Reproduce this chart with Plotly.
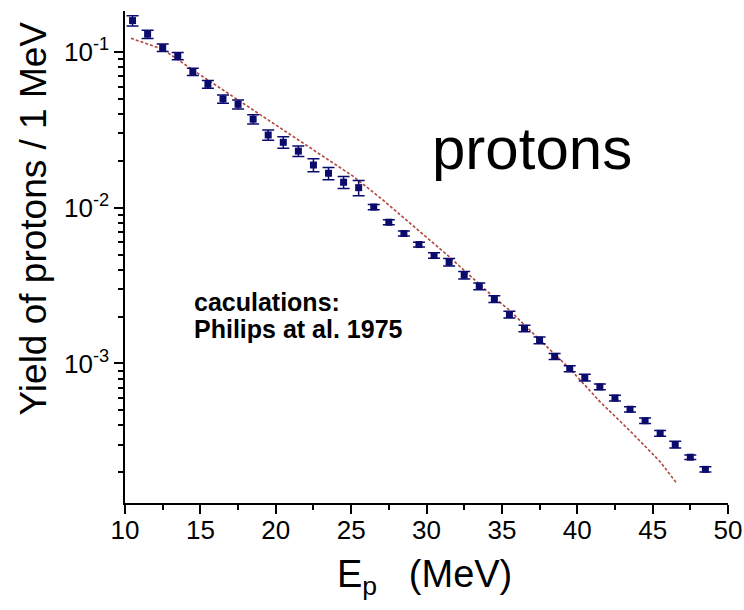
import plotly.graph_objects as go

# measured proton yield (points with error bars)
energy = [10.5, 11.5, 12.5, 13.5, 14.5, 15.5, 16.5, 17.5, 18.5, 19.5,
          20.5, 21.5, 22.5, 23.5, 24.5, 25.5, 26.5, 27.5, 28.5, 29.5,
          30.5, 31.5, 32.5, 33.5, 34.5, 35.5, 36.5, 37.5, 38.5, 39.5,
          40.5, 41.5, 42.5, 43.5, 44.5, 45.5, 46.5, 47.5, 48.5]
yield_exp = [0.159, 0.130, 0.1066, 0.0942, 0.0747, 0.0620, 0.0499, 0.0461, 0.0370, 0.0293,
             0.0263, 0.0231, 0.0188, 0.01664, 0.01457, 0.01345, 0.0101, 0.00807, 0.00683, 0.00580,
             0.00493, 0.00447, 0.00369, 0.00313, 0.00259, 0.00206, 0.00168, 0.00141, 0.00111, 0.000926,
             0.000811, 0.000707, 0.000600, 0.000508, 0.000429, 0.000356, 0.000301, 0.000250, 0.000209]
yield_err = [0.012, 0.008, 0.006, 0.005, 0.004, 0.0035, 0.003, 0.003, 0.0025, 0.0022,
             0.0022, 0.0018, 0.0018, 0.0015, 0.0013, 0.0015, 0.0004, 0.0003, 0.00025, 0.0002,
             0.0002, 0.00025, 0.0002, 0.00016, 0.00013, 0.0001, 0.00008, 0.00007, 0.00005, 0.00004,
             0.00004, 0.00003, 0.000025, 0.00002, 0.000018, 0.000015, 0.000015, 0.000008, 0.000008]

# calculation (Philips et al. 1975), dashed curve
energy_calc = [10.4, 12.5, 14.5, 16.5, 17.6, 22.5, 25.1, 27.1, 31.5, 34.5,
               35.5, 37.5, 39.5, 41.5, 43.5, 45.5, 46.6]
yield_calc = [0.1224, 0.1041, 0.0766, 0.0570, 0.0480, 0.0232, 0.0160, 0.01122, 0.00485, 0.00264,
              0.00220, 0.00142, 0.000926, 0.000569, 0.000369, 0.000234, 0.000170]

ytick_vals = [1e-3, 1e-2, 1e-1]
ytick_text = ["10<sup>-3</sup>", "10<sup>-2</sup>", "10<sup>-1</sup>"]
yminor_vals = [k * 10 ** e for e in (-4, -3, -2) for k in range(2, 10)]

navy = "#0b0b6e"
font_family = "Liberation Sans, Arial, sans-serif"

fig = go.Figure()

fig.add_trace(go.Scatter(
    x=energy_calc, y=yield_calc, mode="lines",
    line=dict(color="#b0463c", width=1.6, dash="3px,2px"),
    showlegend=False))

fig.add_trace(go.Scatter(
    x=energy, y=yield_exp, mode="markers",
    marker=dict(symbol="square", size=7, color=navy),
    error_y=dict(type="data", array=yield_err, color=navy, thickness=1.5, width=6),
    showlegend=False))

axis_common = dict(
    showline=True, linecolor="black", linewidth=1.5,
    ticks="outside", ticklen=9, tickwidth=1.5, tickcolor="black",
    showgrid=False, zeroline=False, automargin=False,
    tickfont=dict(size=26, color="black", family=font_family))

fig.update_xaxes(range=[10, 50], dtick=5, ticklabelstandoff=-6,
                 minor=dict(dtick=2.5, ticks="outside", ticklen=5, tickwidth=1.5, tickcolor="black"),
                 **axis_common)
fig.update_yaxes(type="log", range=[-3.896, -0.737],
                 tickmode="array", tickvals=ytick_vals, ticktext=ytick_text,
                 minor=dict(tickmode="array", tickvals=yminor_vals, ticks="outside",
                            ticklen=5, tickwidth=1.5, tickcolor="black"),
                 **axis_common)

fig.add_annotation(text="protons", xref="paper", yref="paper", x=0.505, y=0.72,
                   xanchor="left", yanchor="middle", showarrow=False,
                   font=dict(size=60, color="black", family=font_family))
fig.add_annotation(text="<b>caculations:</b>", xref="paper", yref="paper", x=0.111, y=0.4085,
                   xanchor="left", yanchor="middle", showarrow=False,
                   font=dict(size=25, color="black", family=font_family))
fig.add_annotation(text="<b>Philips at al. 1975</b>", xref="paper", yref="paper", x=0.111, y=0.3537,
                   xanchor="left", yanchor="middle", showarrow=False,
                   font=dict(size=25, color="black", family=font_family))

# axis titles
fig.add_annotation(text="Yield of protons / 1 MeV", xref="paper", yref="paper",
                   x=-0.152, y=0.579, textangle=-90, xanchor="center", yanchor="middle",
                   showarrow=False, font=dict(size=37, color="black", family=font_family))
fig.add_annotation(text="E<sub>p</sub>&nbsp;&nbsp;&nbsp;(MeV)", xref="paper", yref="paper",
                   x=0.497, y=-0.15, xanchor="center", yanchor="middle",
                   showarrow=False, font=dict(size=38, color="black", family=font_family))

fig.update_layout(
    width=744, height=610,
    margin=dict(l=125, r=16, t=11, b=107),
    paper_bgcolor="white", plot_bgcolor="white",
    font=dict(family=font_family, color="black"))

# drop the default 8px body margin so the figure fills the window exactly
fig.write_html("out.html", config={"displayModeBar": False},
               post_script="document.body.style.margin = '0';")
